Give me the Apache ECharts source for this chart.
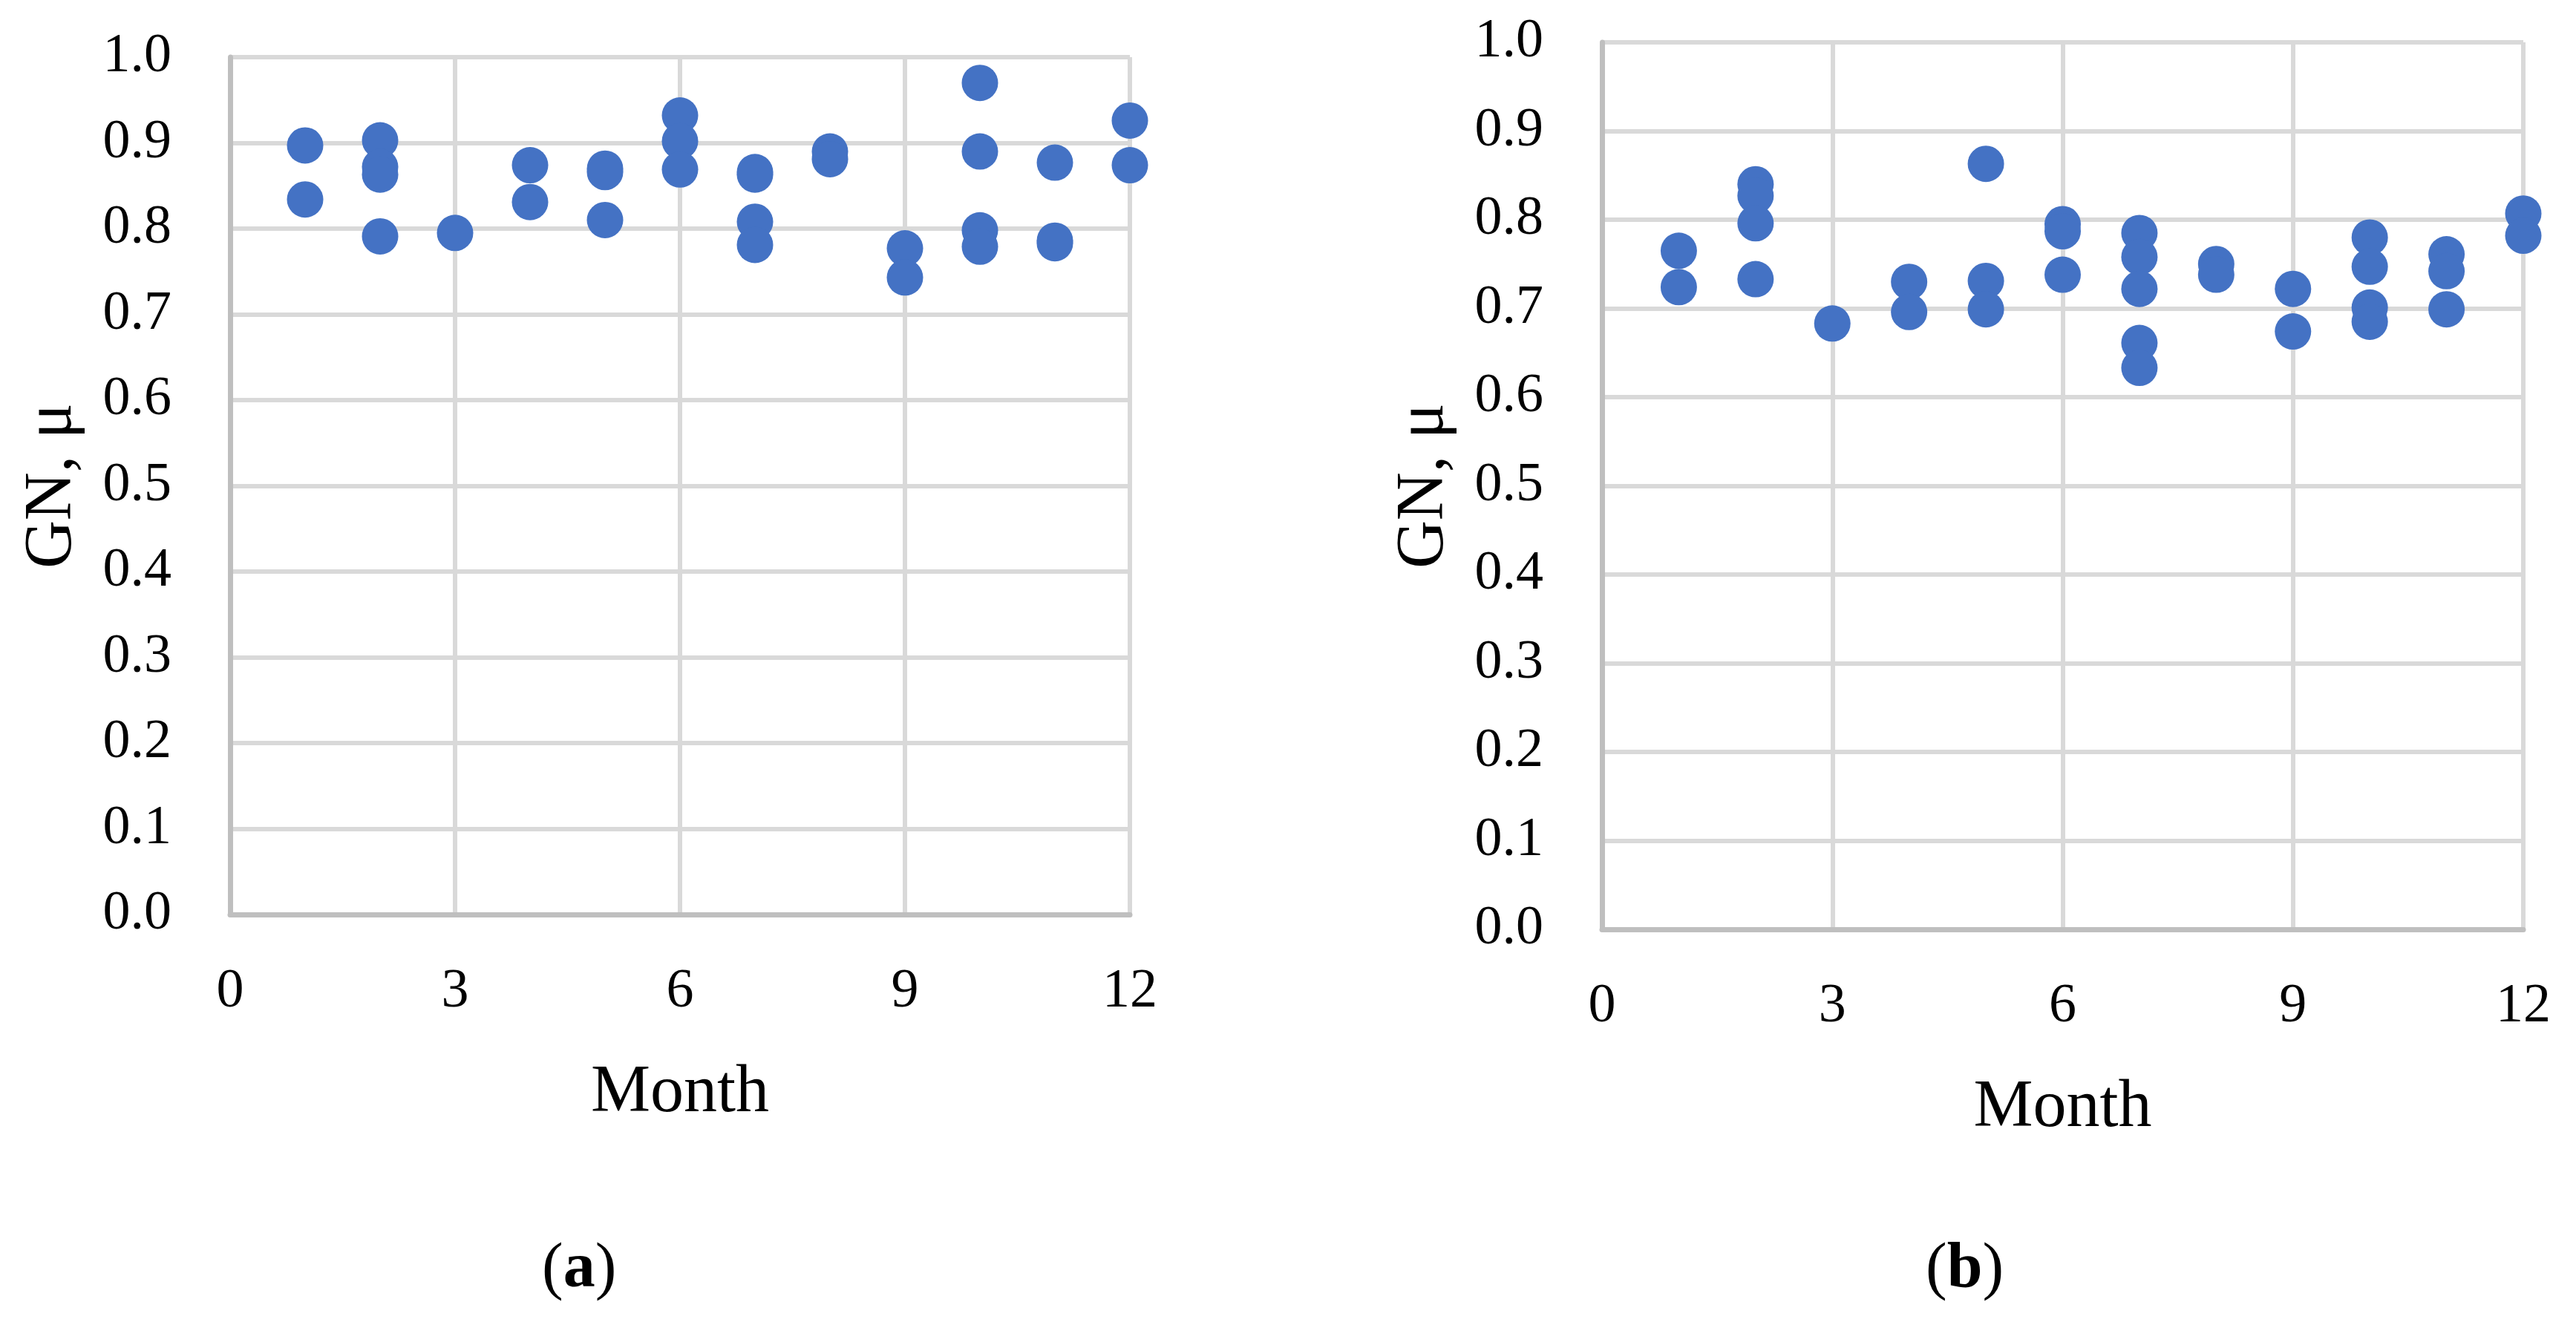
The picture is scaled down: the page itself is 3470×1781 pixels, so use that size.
<!DOCTYPE html>
<html>
<head>
<meta charset="utf-8">
<script src="https://cdn.jsdelivr.net/npm/echarts@6/dist/echarts.min.js"></script>
<style>
html,body{margin:0;padding:0;background:#fff;}
#c{width:3470px;height:1781px;}
</style>
</head>
<body>
<div id="c"></div>
<script>
// Panel (a)
const monthsA = [1,1, 2,2,2,2, 3, 4,4, 5,5,5, 6,6,6, 7,7,7,7, 8,8, 9,9, 10,10,10,10, 11,11,11, 12,12];
const gnA     = [0.897,0.834, 0.903,0.872,0.863,0.791, 0.795, 0.874,0.831, 0.870,0.866,0.810, 0.932,0.902,0.869, 0.866,0.863,0.808,0.781, 0.890,0.881, 0.777,0.743, 0.970,0.890,0.798,0.779, 0.877,0.786,0.783, 0.926,0.874];
// Panel (b)
const monthsB = [1,1, 2,2,2,2, 3, 4,4, 5,5,5, 6,6,6, 7,7,7,7,7, 8,8, 9,9, 10,10,10,10, 11,11,11, 12,12];
const gnB     = [0.765,0.724, 0.840,0.827,0.796,0.733, 0.683, 0.730,0.696, 0.863,0.731,0.699, 0.795,0.787,0.738, 0.785,0.758,0.722,0.661,0.633, 0.750,0.738, 0.722,0.674, 0.780,0.747,0.701,0.685, 0.761,0.742,0.699, 0.807,0.782];

const xTicks = {min:0, max:12, interval:3};
const yTicks = {min:0, max:1, interval:0.1};
const xName = 'Month';
const yName = 'GN, μ';
const panelLabels = ['a','b'];

const FONT = 'Liberation Serif';
const gridColor = '#d9d9d9';
const axisColor = '#bfbfbf';
const dotColor = '#4472c4';

function xAxisDef(gi){
  return {
    type:'value', gridIndex:gi, min:xTicks.min, max:xTicks.max, interval:xTicks.interval,
    name:xName, nameLocation:'middle', nameGap:196,
    nameTextStyle:{fontFamily:FONT, fontSize:90, color:'#000'},
    axisLine:{show:true, onZero:false, lineStyle:{color:axisColor, width:7}},
    axisTick:{show:false},
    axisLabel:{fontFamily:FONT, fontSize:74, color:'#000', margin:68},
    splitLine:{show:true, lineStyle:{color:gridColor, width:6}}
  };
}
function yAxisDef(gi){
  return {
    type:'value', gridIndex:gi, min:yTicks.min, max:yTicks.max, interval:yTicks.interval,
    name:yName, nameLocation:'middle', nameGap:194, nameRotate:90,
    nameTextStyle:{fontFamily:FONT, fontSize:90, color:'#000'},
    axisLine:{show:true, lineStyle:{color:axisColor, width:7}},
    axisTick:{show:false},
    axisLabel:{fontFamily:FONT, fontSize:74, color:'#000', margin:79, formatter:v=>v.toFixed(1)},
    splitLine:{show:true, lineStyle:{color:gridColor, width:6}}
  };
}
function pairs(xs, ys){ return xs.map((x,i)=>[x, ys[i]]); }

const chart = echarts.init(document.getElementById('c'), null, {renderer:'canvas'});
chart.setOption({
  backgroundColor:'#fff',
  animation:false,
  grid:[
    {left:310, top:77, width:1212, height:1155},
    {left:2158, top:57, width:1241, height:1195}
  ],
  xAxis:[xAxisDef(0), xAxisDef(1)],
  yAxis:[yAxisDef(0), yAxisDef(1)],
  series:[
    {type:'scatter', xAxisIndex:0, yAxisIndex:0, data:pairs(monthsA, gnA), symbolSize:49, itemStyle:{color:dotColor, opacity:1}},
    {type:'scatter', xAxisIndex:1, yAxisIndex:1, data:pairs(monthsB, gnB), symbolSize:49, itemStyle:{color:dotColor, opacity:1}}
  ],
  graphic:[
    {type:'text', left:730, top:1668, style:{text:'({b|'+panelLabels[0]+'})', rich:{b:{fontWeight:'bold', fontFamily:FONT, fontSize:86}}, fontFamily:FONT, fontSize:86, fill:'#000'}},
    {type:'text', left:2594, top:1668, style:{text:'({b|'+panelLabels[1]+'})', rich:{b:{fontWeight:'bold', fontFamily:FONT, fontSize:86}}, fontFamily:FONT, fontSize:86, fill:'#000'}}
  ]
});
</script>
</body>
</html>
